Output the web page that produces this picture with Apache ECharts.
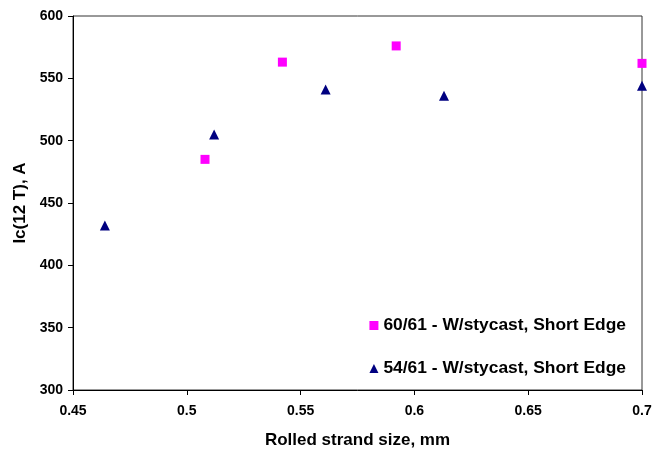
<!DOCTYPE html>
<html><head><meta charset="utf-8">
<script src="https://cdn.jsdelivr.net/npm/echarts@6/dist/echarts.min.js"></script>
<style>html,body{margin:0;padding:0;background:#fff}#c{width:652px;height:451px}</style>
</head><body><div id="c"></div>
<script>
const seriesNames = ['60/61 - W/stycast, Short Edge', '54/61 - W/stycast, Short Edge'];
const sizes60 = [0.508, 0.542, 0.592, 0.700];
const ic60 = [485, 563, 576, 562];
const sizes54 = [0.464, 0.512, 0.561, 0.613, 0.700];
const ic54 = [432, 505, 541, 536, 544];
const xTitle = 'Rolled strand size, mm';
const yTitle = 'Ic(12 T), A';

const font = 'Arial, "Liberation Sans", sans-serif';
const chart = echarts.init(document.getElementById('c'), null, {renderer: 'canvas'});
chart.setOption({
  animation: false,
  backgroundColor: '#fff',
  grid: {left: 73, right: 10, top: 16, bottom: 61, containLabel: false, outerBoundsMode: 'none',
         show: true, borderColor: '#333', borderWidth: 1},
  legend: {
    orient: 'vertical', right: 21, top: 312, itemGap: 26, itemWidth: 9, itemHeight: 9,
    textStyle: {fontFamily: font, fontWeight: 'bold', fontSize: 17.4, color: '#000'},
    data: [{name: seriesNames[0], icon: 'rect'}, {name: seriesNames[1], icon: 'triangle'}]
  },
  xAxis: {
    type: 'value', min: 0.45, max: 0.7, interval: 0.05,
    name: xTitle, nameLocation: 'middle', nameGap: 42,
    nameTextStyle: {fontFamily: font, fontWeight: 'bold', fontSize: 17, color: '#000'},
    axisLine: {lineStyle: {color: '#000', width: 1}},
    axisTick: {show: true, inside: false, length: 5, lineStyle: {color: '#000'}},
    axisLabel: {fontFamily: font, fontWeight: 'bold', fontSize: 14, color: '#000', margin: 14},
    splitLine: {show: false}
  },
  yAxis: {
    type: 'value', min: 300, max: 600, interval: 50,
    name: yTitle, nameLocation: 'middle', nameGap: 38, nameRotate: 90,
    nameTextStyle: {fontFamily: font, fontWeight: 'bold', fontSize: 17, color: '#000'},
    axisLine: {show: true, lineStyle: {color: '#000', width: 1}},
    axisTick: {show: true, inside: false, length: 5, lineStyle: {color: '#000'}},
    axisLabel: {fontFamily: font, fontWeight: 'bold', fontSize: 14, color: '#000', margin: 10},
    splitLine: {show: false}
  },
  series: [
    {name: seriesNames[0], type: 'scatter', symbol: 'rect', symbolSize: 9, clip: false,
     itemStyle: {color: '#FF00FF', opacity: 1}, data: sizes60.map((x, i) => [x, ic60[i]])},
    {name: seriesNames[1], type: 'scatter', symbol: 'triangle', symbolSize: 10, clip: false,
     itemStyle: {color: '#000080', opacity: 1}, data: sizes54.map((x, i) => [x, ic54[i]])}
  ]
});
</script></body></html>
